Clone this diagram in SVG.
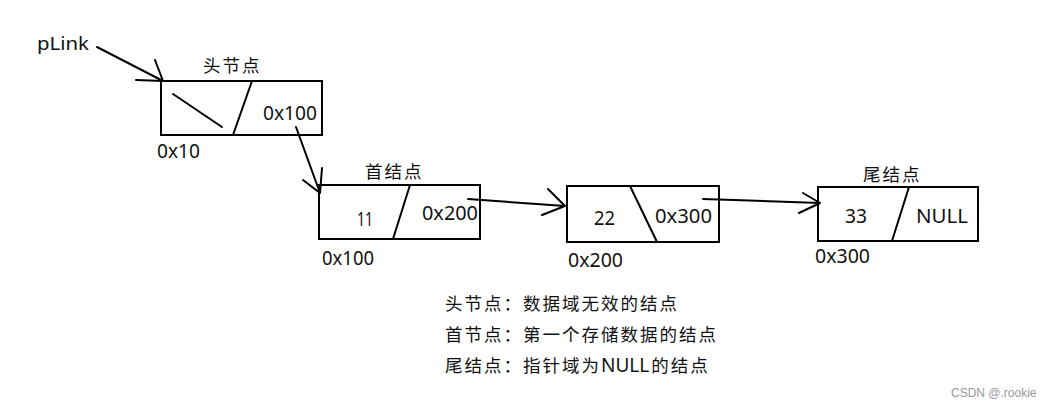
<svg xmlns="http://www.w3.org/2000/svg" width="1053" height="409" viewBox="0 0 1053 409">
<style>
.box{fill:none;stroke:#000;stroke-width:2}
.ln{fill:none;stroke:#000;stroke-width:2;stroke-linecap:round;stroke-linejoin:round}
.t{font-family:"Noto Sans","Liberation Sans",sans-serif;font-size:19px;fill:#111}
.c{font-family:"Noto Sans CJK SC","Noto Sans",sans-serif;font-size:17.5px;letter-spacing:2px;fill:#111}
.n{font-family:"Noto Sans","Liberation Sans",sans-serif;font-size:19px;letter-spacing:0}
.wm{font-family:"Liberation Sans",sans-serif;font-size:12px;fill:#999}
</style>
<rect width="1053" height="409" fill="#fff"/>
<g id="pLink"><text class="t" x="37" y="50" style="font-size:18px" textLength="52" lengthAdjust="spacingAndGlyphs">pLink</text></g>
<g id="head">
<text class="c" x="203" y="72">头节点</text>
<rect class="box" x="161" y="81" width="161" height="54"/>
<line class="ln" x1="252" y1="81" x2="233" y2="135"/>
<line class="ln" x1="173" y1="94" x2="222" y2="127"/>
<text class="t" x="263" y="120" textLength="54" lengthAdjust="spacingAndGlyphs">0x100</text>
<text class="t" x="157" y="158" textLength="43" lengthAdjust="spacingAndGlyphs">0x10</text>
</g>
<g id="first">
<text class="c" x="365" y="178">首结点</text>
<rect class="box" x="319" y="185" width="161" height="54"/>
<line class="ln" x1="410" y1="185" x2="393" y2="239"/>
<text class="t" x="357" y="226" textLength="16" lengthAdjust="spacingAndGlyphs">11</text>
<text class="t" x="422" y="220" textLength="56" lengthAdjust="spacingAndGlyphs">0x200</text>
<text class="t" x="322" y="265" textLength="52" lengthAdjust="spacingAndGlyphs">0x100</text>
</g>
<g id="second">
<rect class="box" x="567" y="186" width="152" height="56"/>
<line class="ln" x1="630" y1="186" x2="657" y2="242"/>
<text class="t" x="594" y="225" textLength="21" lengthAdjust="spacingAndGlyphs">22</text>
<text class="t" x="655" y="223" textLength="57" lengthAdjust="spacingAndGlyphs">0x300</text>
<text class="t" x="568" y="267" textLength="55" lengthAdjust="spacingAndGlyphs">0x200</text>
</g>
<g id="tail">
<text class="c" x="863" y="181">尾结点</text>
<rect class="box" x="818" y="187" width="160" height="54"/>
<line class="ln" x1="909" y1="187" x2="892" y2="241"/>
<text class="t" x="845" y="223" textLength="22" lengthAdjust="spacingAndGlyphs">33</text>
<text class="t" x="916" y="223" textLength="52" lengthAdjust="spacingAndGlyphs">NULL</text>
<text class="t" x="815" y="263" textLength="55" lengthAdjust="spacingAndGlyphs">0x300</text>
</g>
<g id="connectors">
<path class="ln" d="M97,47 L163,81 M155,60 L163,81 L136,80"/>
<path class="ln" d="M296,127 L320,193 M322,168 L320,193 L303,180"/>
<path class="ln" d="M468,199 L565,206 M548,189 L565,206 L542,215"/>
<path class="ln" d="M703,199 L820,203 M803,193 L820,203 L799,213"/>
</g>
<g id="legend">
<text class="c" x="445" y="310">头节点：数据域无效的结点</text>
<text class="c" x="445" y="341">首节点：第一个存储数据的结点</text>
<text class="c" x="445" y="372">尾结点：指针域为<tspan class="n">NULL</tspan><tspan dx="2">的结点</tspan></text>
</g>
<text class="wm" x="951" y="397">CSDN @.rookie</text>
</svg>
